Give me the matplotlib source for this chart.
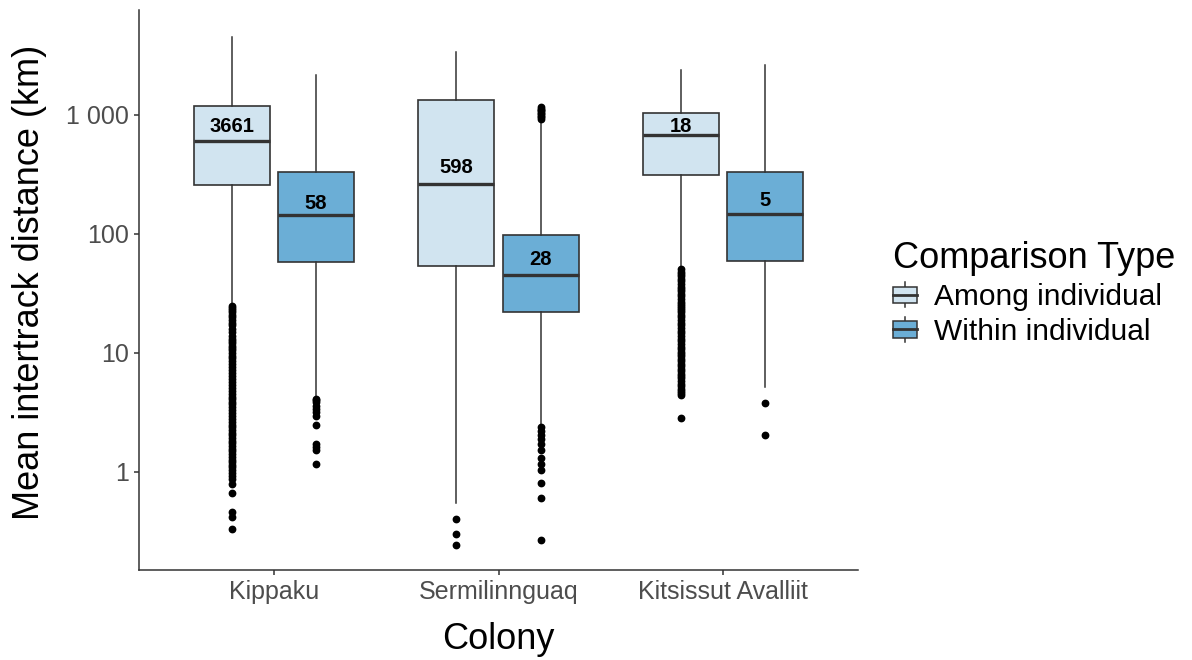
import matplotlib
matplotlib.use("Agg")
import matplotlib.pyplot as plt
from matplotlib.patches import Patch, Rectangle
from matplotlib.lines import Line2D
from matplotlib.legend_handler import HandlerBase
from matplotlib.ticker import FixedLocator, FixedFormatter, NullLocator

plt.rcParams['font.family'] = ['Liberation Sans', 'DejaVu Sans']

# ---------------- data ----------------
colonies = ["Kippaku", "Sermilinnguaq", "Kitsissut Avalliit"]
comparison_types = ["Among individual", "Within individual"]

# box statistics (km), order: Kippaku, Sermilinnguaq, Kitsissut Avalliit
among_q1 = [256, 54, 313]
among_med = [605, 263, 674]
among_q3 = [1183, 1337, 1046]
among_whislo = [26.5, 0.55, 52]
among_whishi = [4520, 3365, 2390]

within_q1 = [57.8, 22.2, 59.3]
within_med = [143, 45.2, 147]
within_q3 = [332, 98, 334]
within_whislo = [4.3, 2.45, 5.15]
within_whishi = [2170, 890, 2600]

# outliers
among_fliers_kippaku = [25, 24, 23, 22, 21, 20, 19, 18, 17, 16, 15, 14, 13, 12.5, 12,
                        11.5, 11, 10.5, 10, 9.5, 9, 8.5, 8, 7.6, 7.2, 6.8, 6.4, 6.0,
                        5.7, 5.4, 5.1, 4.8, 4.5, 4.3, 4.1, 3.9, 3.7, 3.5, 3.3, 3.1,
                        2.95, 2.8, 2.65, 2.5, 2.38, 2.26, 2.14, 2.03, 1.93, 1.83,
                        1.74, 1.65, 1.57, 1.49, 1.41, 1.34, 1.27, 1.21, 1.15, 1.09,
                        1.03, 0.98, 0.93, 0.88, 0.79, 0.66, 0.46, 0.42, 0.33]
among_fliers_sermilinnguaq = [0.405, 0.30, 0.244]
among_fliers_kitsissut = [50.5, 48, 46, 44, 42, 40, 38, 36, 34.5, 33, 31.5, 30, 28.5,
                          27, 26, 25, 24, 23, 22, 21, 20, 19, 18, 17, 16.2, 15.4,
                          14.6, 13.9, 13.2, 12.5, 11.9, 11.3, 10.7, 10.2, 9.7, 9.4,
                          8.9, 8.5, 8.1, 7.7, 7.3, 7.0, 6.7, 6.45, 6.1, 5.8, 5.5,
                          5.25, 5.0, 4.8, 4.6, 4.4, 2.83]
within_fliers_kippaku = [4.1, 4.0, 3.85, 3.6, 3.4, 3.2, 2.96, 2.5, 1.72, 1.63, 1.52, 1.17]
within_fliers_sermilinnguaq = [920, 950, 980, 1010, 1040, 1070, 1100, 1130, 1160,
                               2.38, 2.22, 2.05, 1.88, 1.72, 1.53, 1.32, 1.16, 1.03,
                               0.80, 0.60, 0.27]
within_fliers_kitsissut = [3.82, 2.03]

# number of comparisons shown in each box
among_n = ["3661", "598", "18"]
within_n = ["58", "28", "5"]
among_label_y = [825, 375, 825]
within_label_y = [187, 63, 200]

yticks = [1, 10, 100, 1000]
yticklabels = ["1", "10", "100", "1 000"]

# ---------------- styling ----------------
among_color = "#D1E4F0"
within_color = "#6BAED6"
line_color = "#333333"
dodge = 0.1875
box_w = 0.3375

fig = plt.figure(figsize=(11.92, 6.6), dpi=100)
ax = fig.add_axes([139 / 1192, 1 - 570 / 660, (858 - 139) / 1192, (570 - 10) / 660])


def make_stats(q1, med, q3, lo, hi, fl):
    return [dict(q1=a, med=b, q3=c, whislo=d, whishi=e, fliers=f)
            for a, b, c, d, e, f in zip(q1, med, q3, lo, hi, fl)]


among_stats = make_stats(among_q1, among_med, among_q3, among_whislo, among_whishi,
                         [among_fliers_kippaku, among_fliers_sermilinnguaq, among_fliers_kitsissut])
within_stats = make_stats(within_q1, within_med, within_q3, within_whislo, within_whishi,
                          [within_fliers_kippaku, within_fliers_sermilinnguaq, within_fliers_kitsissut])

centers = list(range(1, len(colonies) + 1))
for stats, color, off in [(among_stats, among_color, -dodge), (within_stats, within_color, dodge)]:
    pos = [c + off for c in centers]
    ax.bxp(stats, positions=pos, widths=box_w, patch_artist=True, showcaps=False,
           boxprops=dict(facecolor=color, edgecolor=line_color, linewidth=1.2),
           medianprops=dict(color=line_color, linewidth=2.4),
           whiskerprops=dict(color=line_color, linewidth=1.1),
           flierprops=dict(marker='o', markerfacecolor='black', markeredgecolor='black',
                           markersize=4.6, linestyle='none'),
           manage_ticks=False)

for i, c in enumerate(centers):
    ax.text(c - dodge, among_label_y[i], among_n[i], ha='center', va='center_baseline',
            fontsize=14.5, fontweight='bold', color='black', zorder=5)
    ax.text(c + dodge, within_label_y[i], within_n[i], ha='center', va='center_baseline',
            fontsize=14.5, fontweight='bold', color='black', zorder=5)

ax.set_yscale('log')
ax.set_ylim(0.15, 7600)
ax.set_xlim(0.4, 3.6)
ax.yaxis.set_major_locator(FixedLocator(yticks))
ax.yaxis.set_major_formatter(FixedFormatter(yticklabels))
ax.yaxis.set_minor_locator(NullLocator())
ax.set_xticks(centers)
ax.set_xticklabels(colonies)

for side in ['top', 'right']:
    ax.spines[side].set_visible(False)
for side in ['left', 'bottom']:
    ax.spines[side].set_color(line_color)
    ax.spines[side].set_linewidth(1.1)
ax.tick_params(axis='both', colors=line_color, length=3.5, width=1.1,
               labelsize=18, labelcolor='#4D4D4D', pad=4)

ax.set_xlabel("Colony", fontsize=26, color='black')
ax.set_ylabel("Mean intertrack distance (km)", fontsize=26, color='black')
ax.xaxis.set_label_coords(0.5, -0.092)
ax.yaxis.set_label_coords(-0.128, 0.514)


class BoxKey(HandlerBase):
    def create_artists(self, legend, orig_handle, xdescent, ydescent, width, height,
                       fontsize, trans):
        x0, y0 = -xdescent, -ydescent
        fc = orig_handle.get_facecolor()
        cx = x0 + width / 2
        stem = Line2D([cx, cx], [y0, y0 + height], color=line_color, lw=1.1, transform=trans)
        rect = Rectangle((x0, y0 + 0.17 * height), width, 0.66 * height, facecolor=fc,
                         edgecolor=line_color, lw=1.1, transform=trans)
        med = Line2D([x0, x0 + width], [y0 + height / 2] * 2, color=line_color, lw=2.0,
                     transform=trans)
        return [stem, rect, med]


fig.text(893 / 1192, 1 - 268 / 660, "Comparison Type", fontsize=26, color='black',
         ha='left', va='baseline')
handles = [Patch(facecolor=among_color), Patch(facecolor=within_color)]
leg = fig.legend(handles, comparison_types,
                 loc='center left', bbox_to_anchor=(893 / 1192, 1 - 314 / 660),
                 frameon=False, fontsize=21.5,
                 handler_map={Patch: BoxKey()}, handlelength=0.82, handleheight=0.9,
                 handletextpad=0.55, labelspacing=0.2, borderpad=0, borderaxespad=0)

fig.savefig("out.png", dpi=100)
